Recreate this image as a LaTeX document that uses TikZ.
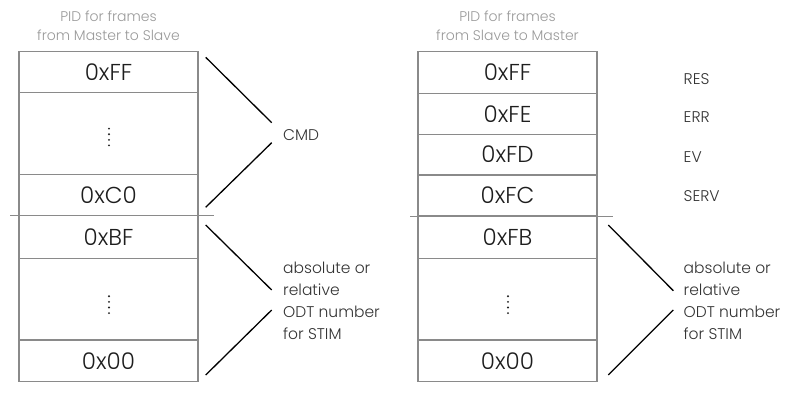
\documentclass[tikz,border=0pt]{standalone}
\usepackage{fontspec}
\IfFontExistsTF{Poppins Light}{\setmainfont{Poppins Light}}{\setmainfont{Poppins}}
\definecolor{boxgray}{HTML}{8A8A8A}
\definecolor{titlegray}{HTML}{9A9A9A}
\definecolor{txt}{HTML}{1E1E1E}
\definecolor{lbl}{HTML}{333333}
\begin{document}
\begin{tikzpicture}[x=1pt,y=-1pt,
  cell/.style={draw=boxgray,line width=1.4pt,minimum width=179pt,inner sep=0pt,
    font=\fontsize{23}{23}\selectfont,text=txt},
  ttl/.style={text=titlegray,font=\fontsize{14}{19}\selectfont,align=center},
  lab/.style={text=lbl,font=\fontsize{15.5}{22}\selectfont,align=left,anchor=west,inner sep=0pt},
  conn/.style={draw=black,line width=1.3pt},
  sep/.style={draw=boxgray,line width=1.4pt},
  dotcol/.style={fill=txt,draw=none}]
\useasboundingbox (0,0) rectangle (790,400);
\fill[white] (0,0) rectangle (790,400);

% titles
\node[ttl] (t1) at (108.5,25.5) {PID for frames\\from Master to Slave};
\node[ttl] (t2) at (507.5,25.5) {PID for frames\\from Slave to Master};

% left table
\node[cell,minimum height=41pt] (lff) at (108.5,72.2) {0xFF};
\node[cell,minimum height=81.6pt] (ld1) at (108.5,133.5) {};
\node[cell,minimum height=41.4pt] (lc0) at (108.5,195) {0xC0};
\node[cell,minimum height=42.6pt] (lbf) at (108.5,237) {0xBF};
\node[cell,minimum height=81.7pt] (ld2) at (108.5,299.15) {};
\node[cell,minimum height=41.7pt] (l00) at (108.5,360.85) {0x00};

% right table
\node[cell,minimum height=41.6pt] (rff) at (507.5,72.5) {0xFF};
\node[cell,minimum height=41pt] (rfe) at (507.5,113.8) {0xFE};
\node[cell,minimum height=40.7pt] (rfd) at (507.5,154.65) {0xFD};
\node[cell,minimum height=41.3pt] (rfc) at (507.5,195.45) {0xFC};
\node[cell,minimum height=41.6pt] (rfb) at (507.5,237.5) {0xFB};
\node[cell,minimum height=81.7pt] (rd2) at (507.5,299.15) {};
\node[cell,minimum height=41.7pt] (r00) at (507.5,360.85) {0x00};

% vertical dots
\foreach \n/\off in {ld1/3.5,ld2/5.5,rd2/5.5}{
  \foreach \dy in {-8.4,-2.8,2.8,8.4}{
    \fill[dotcol] ([xshift=0.5pt,yshift=-\dy pt-\off pt]\n.center) circle (1.05pt);
  }
}

% separators
\coordinate (s1a) at (10,215.7);
\coordinate (s1b) at (214,215.7);
\coordinate (s2a) at (410,216.5);
\coordinate (s2b) at (613,216.5);
\draw[sep] (s1a) -- (s1b);
\draw[sep] (s2a) -- (s2b);

% labels
\node[lab] (cmd) at (283,135) {CMD};
\node[lab,anchor=north west] (abs1) at (283,262) {absolute or\\relative\\ODT number\\for STIM};
\node[lab,anchor=north west] (abs2) at (683.5,262) {absolute or\\relative\\ODT number\\for STIM};
\node[lab] (res) at (683.5,79) {RES};
\node[lab] (err) at (683.5,117.5) {ERR};
\node[lab] (ev) at (683.5,157) {EV};
\node[lab] (serv) at (683.5,196.5) {SERV};

% connectors
\coordinate (a1) at (205.7,57.3);
\coordinate (a2) at (271.7,122.7);
\coordinate (a3) at (271.7,142.7);
\coordinate (a4) at (205.7,207.3);
\draw[conn] (a1) -- (a2);
\draw[conn] (a3) -- (a4);

\coordinate (b1) at (205.7,225);
\coordinate (b2) at (271.7,290);
\coordinate (b3) at (271.7,310);
\coordinate (b4) at (205.7,375);
\draw[conn] (b1) -- (b2);
\draw[conn] (b3) -- (b4);

\coordinate (c1) at (608.3,225);
\coordinate (c2) at (673.3,290.7);
\coordinate (c3) at (673.3,310);
\coordinate (c4) at (608.3,375);
\draw[conn] (c1) -- (c2);
\draw[conn] (c3) -- (c4);
\end{tikzpicture}
\end{document}
